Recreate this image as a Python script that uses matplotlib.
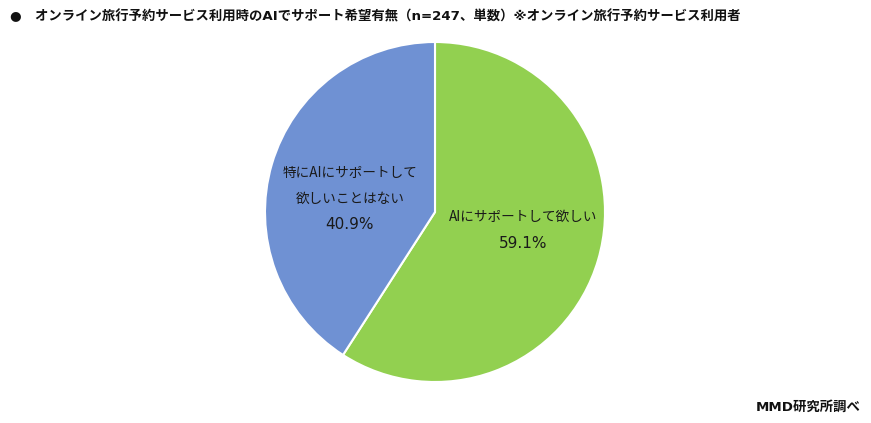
import matplotlib
matplotlib.use("Agg")
import matplotlib.pyplot as plt

plt.rcParams["font.family"] = ["Noto Sans CJK JP", "DejaVu Sans"]
latin_first = ["DejaVu Sans", "Noto Sans CJK JP"]

# data
labels = [["AIにサポートして欲しい"], ["特にAIにサポートして", "欲しいことはない"]]
values = [59.1, 40.9]
colors = ["#92D050", "#6F91D3"]
title = "●　オンライン旅行予約サービス利用時のAIでサポート希望有無（n=247、単数）※オンライン旅行予約サービス利用者"
source = "MMD研究所調べ"

fig = plt.figure(figsize=(8.71, 4.23), dpi=100)
ax = fig.add_axes([265 / 871, 41 / 423, 340 / 871, 340 / 423])

ax.pie(values, colors=colors, startangle=90, counterclock=False,
       wedgeprops=dict(edgecolor="white", linewidth=1.5))
ax.set_aspect("equal")
ax.set_xlim(-1, 1)
ax.set_ylim(-1, 1)

# labels inside slices: x centre and top line y (data units), lines 26px apart
label_pos = [(0.52, -0.03), (-0.5, 0.23)]
step = 26 / 170
for lines, v, (x, y) in zip(labels, values, label_pos):
    for i, line in enumerate(lines):
        ax.text(x, y - i * step, line, ha="center", va="center",
                fontsize=9.8, color="#1a1a1a")
    ax.text(x, y - len(lines) * step, f"{v}%", ha="center", va="center",
            fontsize=11, color="#1a1a1a", family=latin_first)

fig.text(10 / 871, 1 - 16 / 423, title, ha="left", va="center",
         fontsize=9.6, fontweight="bold", color="#111111", family=latin_first)
fig.text(861 / 871, 1 - 407 / 423, source, ha="right", va="center",
         fontsize=9.6, fontweight="bold", color="#111111", family=latin_first)

fig.savefig("out.png", dpi=100)
